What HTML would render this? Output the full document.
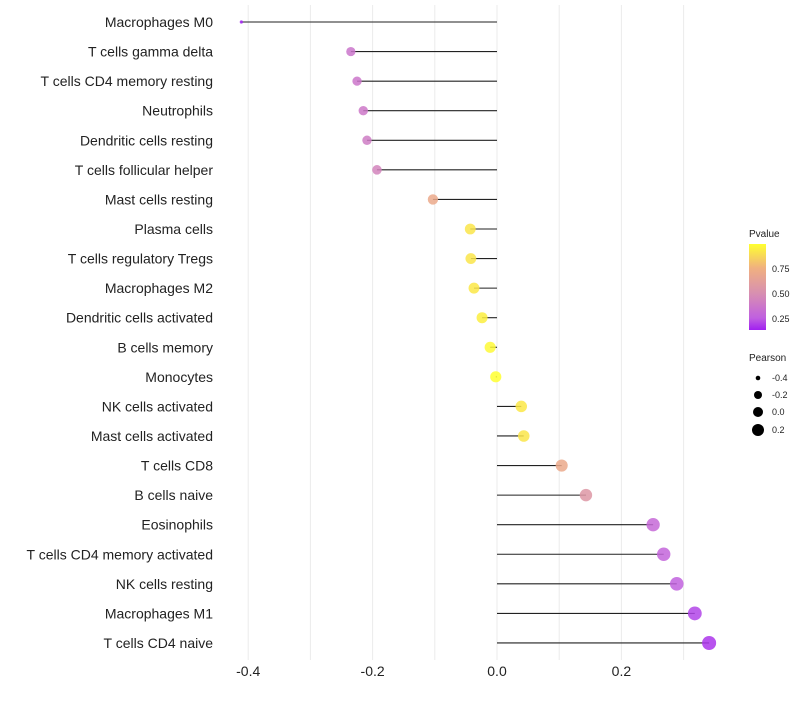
<!DOCTYPE html>
<html><head><meta charset="utf-8"><style>
body{margin:0;background:#fff;font-family:"Liberation Sans",sans-serif}
</style></head><body>
<svg id="chart" width="800" height="700" xmlns="http://www.w3.org/2000/svg">
<defs><linearGradient id="pg" x1="0" y1="1" x2="0" y2="0">
<stop offset="0" stop-color="#a020f0"/><stop offset="0.14" stop-color="#c060e0"/><stop offset="0.43" stop-color="#d890b0"/><stop offset="0.72" stop-color="#f0b080"/><stop offset="1" stop-color="#ffff30"/></linearGradient></defs>
<g id="grid"></g>
<g id="marks"></g>
<g id="labels"></g>
<g id="xt"></g>
<g font-size="9" fill="#222">
<text x="749" y="237" font-size="10">Pvalue</text>
<rect x="749" y="244" width="17" height="86" fill="url(#pg)"/>
<text x="772" y="272">0.75</text>
<text x="772" y="297">0.50</text>
<text x="772" y="322">0.25</text>
</g>
<g font-size="9" fill="#222">
<text x="749" y="361" font-size="10">Pearson</text>
<circle cx="758" cy="378" r="2.3" fill="#000"/><text x="772" y="381">-0.4</text>
<circle cx="758" cy="395" r="4" fill="#000"/><text x="772" y="398">-0.2</text>
<circle cx="758" cy="412" r="5" fill="#000"/><text x="772" y="415">0.0</text>
<circle cx="758" cy="430" r="6" fill="#000"/><text x="772" y="433">0.2</text>
</g>
</svg>
<script>
const categories=["Macrophages M0","T cells gamma delta","T cells CD4 memory resting","Neutrophils","Dendritic cells resting","T cells follicular helper","Mast cells resting","Plasma cells","T cells regulatory  Tregs ","Macrophages M2","Dendritic cells activated","B cells memory","Monocytes","NK cells activated","Mast cells activated","T cells CD8","B cells naive","Eosinophils","T cells CD4 memory activated","NK cells resting","Macrophages M1","T cells CD4 naive"];
const pearson=[-0.411,-0.235,-0.225,-0.215,-0.209,-0.193,-0.103,-0.043,-0.042,-0.037,-0.024,-0.011,-0.002,0.039,0.043,0.104,0.143,0.251,0.268,0.289,0.318,0.341];
const pvalue=[0.1,0.36,0.37,0.38,0.4,0.44,0.7,0.92,0.92,0.93,0.95,0.98,1.0,0.93,0.92,0.7,0.56,0.3,0.28,0.26,0.2,0.17];
const xTicks=[-0.4,-0.2,0.0,0.2];
const xTickLabels=["-0.4","-0.2","0.0","0.2"];
const NS="http://www.w3.org/2000/svg";
const x=v=>497+v*622;
const y=i=>22+i*29.57;
function el(t,a,p){const e=document.createElementNS(NS,t);for(const k in a)e.setAttribute(k,a[k]);document.getElementById(p).appendChild(e);return e;}
function lerp(a,b,t){return a.map((v,i)=>Math.round(v+(b[i]-v)*t));}
const stops=[[0,[160,32,240]],[0.14,[192,96,224]],[0.43,[216,144,176]],[0.72,[240,176,128]],[1,[255,255,48]]];
function col(p){const t=Math.max(0,Math.min(1,(p-0.13)/0.87));for(let i=1;i<stops.length;i++){if(t<=stops[i][0]){const c=lerp(stops[i-1][1],stops[i][1],(t-stops[i-1][0])/(stops[i][0]-stops[i-1][0]));return `rgb(${c})`;}}return "rgb(255,255,48)";}
const rad=v=>v<-0.35?1.6:5.6+4.2*v;
[-0.4,-0.3,-0.2,-0.1,0,0.1,0.2,0.3].forEach(v=>{const g=el("line",{x1:x(v),x2:x(v),y1:5,y2:660,stroke:"#ebebeb","stroke-width":1},"grid");

});
xTicks.forEach((v,i)=>{const t=el("text",{x:x(v),y:676,"text-anchor":"middle","font-size":14,fill:"#222"},"xt");t.textContent=xTickLabels[i];

});
categories.forEach((c,i)=>{
const l=el("line",{x1:x(0),x2:x(pearson[i]),y1:y(i),y2:y(i),stroke:"#222","stroke-width":1.1},"marks");


const d=el("circle",{cx:x(pearson[i]),cy:y(i),r:rad(pearson[i]),fill:col(pvalue[i]),"fill-opacity":0.85},"marks");


const t=el("text",{x:213,y:y(i)+5,"text-anchor":"end","font-size":14,fill:"#222","xml:space":"preserve"},"labels");t.textContent=c;


});
</script>
</body></html>
